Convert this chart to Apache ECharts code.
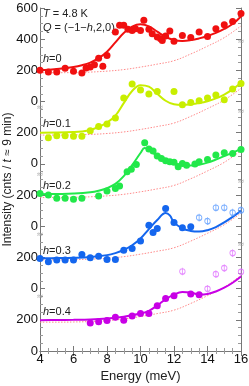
<!DOCTYPE html>
<html><head><meta charset="utf-8">
<script src="https://cdn.jsdelivr.net/npm/echarts@6/dist/echarts.min.js"></script>
<style>html,body{margin:0;padding:0;background:#fff}#c{width:249px;height:386px}</style>
</head><body><div id="c"></div>
<script>
// ---- data ----
var panelNames = ['h=0', 'h=0.1', 'h=0.2', 'h=0.3', 'h=0.4'];
var panelOffsets = [1600, 1200, 800, 400, 0];
var yTickLabels = ['0','200','0','200','0','200','0','200','0','200','400','600'];
var xTicks = [4, 6, 8, 10, 12, 14, 16];

var pts0 = [[4,200],[4.5,189],[5,189],[5.5,213],[6,194],[6.5,183],[6.75,215],[7,221],[7.25,236],[7.5,278],[7.75,226],[8,296],[8.5,446],[8.75,489],[9,489],[9.25,463],[9.5,456],[9.7,467],[10,456],[10.2,521],[10.5,463],[10.7,435],[11,414],[11.2,403],[11.3,392],[11.5,420],[11.75,452],[12,386],[12.5,424],[13,410],[13.5,446],[14,418],[14.5,467],[15,493],[15.5,514],[16,564]];
var fit0 = [[4,200],[5,208],[6,222],[6.5,233],[7,250],[7.5,278],[8,320],[8.5,380],[9,440],[9.5,480],[10,495],[10.5,482],[11,448],[11.5,415],[12,395],[12.5,389],[13,394],[13.5,405],[14,420],[14.5,440],[15,466],[15.5,497],[16,545]];

var pts1 = [[4.5,168],[5,181],[5.5,181],[6,177],[6.5,177],[7,213],[7.5,240],[8,256],[8.5,294],[9,423],[9.5,512],[10,474],[10.5,448],[11,465],[12,465],[12.5,380],[13,394],[13.5,405],[14,423],[14.5,442],[15,412],[15.5,480],[16,516]];
var fit1 = [[4,200],[5,201],[6,204],[6.5,208],[7,218],[7.5,238],[8,265],[8.5,310],[9,390],[9.5,468],[10,505],[10.5,495],[11,450],[11.5,405],[12,382],[12.5,378],[13,382],[13.5,390],[14,402],[14.5,420],[15,445],[15.5,478],[16,520]];

var pts2 = [[4,211],[4.5,200],[5,179],[5.5,179],[6,174],[6.5,179],[7.5,194],[8,226],[8.5,243],[8.75,258],[9.2,350],[9.45,365],[9.75,397],[10.25,535],[10.5,495],[10.75,482],[11,450],[11.25,435],[11.5,420],[11.75,414],[12,410],[12.25,382],[12.5,403],[12.75,392],[13.25,399],[13.5,414],[14,429],[14.5,457],[15,471],[15.5,467],[16,493]];
var fit2 = [[4,205],[5,207],[6,210],[7,218],[7.5,228],[8,245],[8.5,272],[9,322],[9.5,392],[10,470],[10.25,502],[10.5,490],[11,452],[11.5,422],[12,403],[12.5,393],[13,390],[13.5,395],[14,408],[14.5,428],[15,450],[15.5,472],[16,497]];

var pts3 = [[4,194],[4.5,172],[5,183],[5.5,183],[6,183],[6.5,219],[7,198],[7.5,208],[8,187],[8.5,187],[9,247],[9.5,258],[10,305],[10.5,407],[10.75,360],[11,386],[11.5,514],[12,424],[12.5,390],[13,397]];
var open3 = [[13.5,455],[14,433],[14.5,519],[15,519],[15.5,487],[16,503]];
var fit3 = [[4,195],[5,196],[6,198],[7,203],[8,215],[8.5,228],[9,248],[9.5,278],[10,322],[10.5,382],[11,440],[11.5,485],[11.75,470],[12,425],[12.5,386],[13,370],[13.5,366],[14,375],[14.5,395],[15,425],[15.5,460],[16,500]];

var pts4 = [[7,179],[7.5,187],[8,195],[8.5,217],[9,197],[9.5,224],[10,240],[10.5,240],[11,291],[11.5,336],[12,354],[13,365],[13.5,360]];
var open4 = [[12.5,510],[14,399],[14.5,493],[15,532],[15.5,628],[16,508]];
var fit4 = [[4,198],[5,199],[6,200],[7,202],[8,208],[9,220],[10,240],[10.5,258],[11,292],[11.5,332],[12,362],[12.5,378],[13,375],[13.5,362],[14,366],[14.5,382],[15,406],[15.5,438],[16,478]];

var background = [[4,185],[5,185],[6,186],[7,189],[8,195],[9,205],[10,221],[11,240],[12,262],[13,305],[14,355],[15,410],[16,485]];

var breakLeft = [1559, 1129, 744, 346];
var breakRight = [1982, 1533, 1084, 680];

// ---- build ----
var colors = ['#f01010', '#c8ee00', '#22e84a', '#1466ee', '#c800e6'];
var openColors = ['', '', '', '#5c9cff', '#e070ff'];
var ptsAll = [pts0, pts1, pts2, pts3, pts4];
var fitAll = [fit0, fit1, fit2, fit3, fit4];
var openAll = [[], [], [], open3, open4];

function shift(arr, off) { return arr.map(function (p) { return [p[0], p[1] + off]; }); }

var series = [];
for (var i = 0; i < 5; i++) {
  var off = panelOffsets[i];
  series.push({ type: 'line', data: shift(background, off), smooth: 0.4, symbol: 'none', z: 1,
    lineStyle: { color: '#ff8a8a', width: 1, type: [1.5, 1.5] }, silent: true });
  series.push({ type: 'line', data: shift(fitAll[i], off), smooth: 0.4, symbol: 'none', z: 3,
    lineStyle: { color: colors[i], width: 2 }, silent: true });
  series.push({ type: 'scatter', data: shift(ptsAll[i], off), symbol: 'circle', symbolSize: 7, z: 4,
    itemStyle: { color: colors[i], opacity: 1 }, silent: true });
  if (openAll[i].length) {
    series.push({ type: 'scatter', data: shift(openAll[i], off),
      symbol: 'path://M5,0L5,14M0,7A5,5,0,1,0,10,7A5,5,0,1,0,0,7', symbolSize: [5.5, 7.7], z: 4,
      itemStyle: { color: 'rgba(0,0,0,0)', borderColor: openColors[i], borderWidth: 1 }, silent: true });
  }
}
// axis break marks
var breakData = breakLeft.map(function (v) { return [4, v]; }).concat(breakRight.map(function (v) { return [16, v]; }));
series.push({ type: 'scatter', data: breakData, symbol: 'circle', symbolSize: 1, z: 6, silent: true,
  itemStyle: { color: 'rgba(0,0,0,0)' },
  label: { show: true, formatter: '≈', color: '#999', fontSize: 9, position: 'inside', fontFamily: 'DejaVu Sans' } });

var axisCommon = {
  axisLine: { lineStyle: { color: '#777', width: 1 } },
  axisTick: { inside: true, length: 5, lineStyle: { color: '#777' } },
  minorTick: { show: true, splitNumber: 4, length: 3, lineStyle: { color: '#999' } },
  splitLine: { show: false }
};
var font = 'Liberation Sans';

var option = {
  animation: false,
  grid: { left: 40, right: 8, top: 8, bottom: 35, containLabel: false, outerBoundsMode: 'none' },
  xAxis: [
    Object.assign({ type: 'value', min: 4, max: 16, interval: 2, position: 'bottom',
      name: 'Energy (meV)', nameLocation: 'middle', nameGap: 19, nameMoveOverlap: false,
      nameTextStyle: { fontSize: 13, color: '#222', fontFamily: font },
      axisLabel: { fontSize: 13, color: '#111', margin: 2, fontFamily: font,
        formatter: function (v) { return xTicks.indexOf(v) >= 0 ? String(v) : ''; } } }, axisCommon),
    Object.assign({ type: 'value', min: 4, max: 16, interval: 2, position: 'top', axisLabel: { show: false } }, axisCommon)
  ],
  yAxis: [
    Object.assign({ type: 'value', min: 0, max: 2200, interval: 200, position: 'left',
      name: '{a|Intensity (cnts / }{i|t}{a| ≈ 9 min)}', nameLocation: 'middle', nameGap: 26, nameRotate: 90, nameMoveOverlap: false,
      nameTextStyle: { rich: { a: { fontSize: 12, color: '#222', fontFamily: font }, i: { fontSize: 12, color: '#222', fontStyle: 'italic', fontFamily: font } } },
      axisLabel: { fontSize: 13, color: '#111', margin: 2, fontFamily: font,
        formatter: function (v) { return yTickLabels[Math.round(v / 200)]; } } }, axisCommon),
    Object.assign({ type: 'value', min: 0, max: 2200, interval: 200, position: 'right', axisLabel: { show: false } }, axisCommon)
  ],
  graphic: [
    { type: 'text', left: 43, top: 8, style: { rich: { i: { fontStyle: 'italic', fontSize: 11, fontFamily: font, fill: '#222' }, a: { fontSize: 11, fontFamily: font, fill: '#222' } }, text: '{i|T}{a| = 4.8 K}' } },
    { type: 'text', left: 43, top: 22, style: { rich: { i: { fontStyle: 'italic', fontSize: 11, fontFamily: font, fill: '#222' }, a: { fontSize: 11, fontFamily: font, fill: '#222' } }, text: '{i|Q}{a| = (−1−}{i|h}{a|,2,0)}' } },
  ],
  series: series
};
var labelTops = [53, 118, 180, 245, 306];
for (var k = 0; k < 5; k++) {
  var parts = panelNames[k].split('=');
  option.graphic.push({ type: 'text', left: 43, top: labelTops[k], style: { rich: { i: { fontStyle: 'italic', fontSize: 11, fontFamily: font, fill: '#222' }, a: { fontSize: 11, fontFamily: font, fill: '#222' } }, text: '{i|' + parts[0] + '}{a|=' + parts[1] + '}' } });
}
var chart = echarts.init(document.getElementById('c'), null, { renderer: 'canvas' });
chart.setOption(option);
</script>
</body></html>
